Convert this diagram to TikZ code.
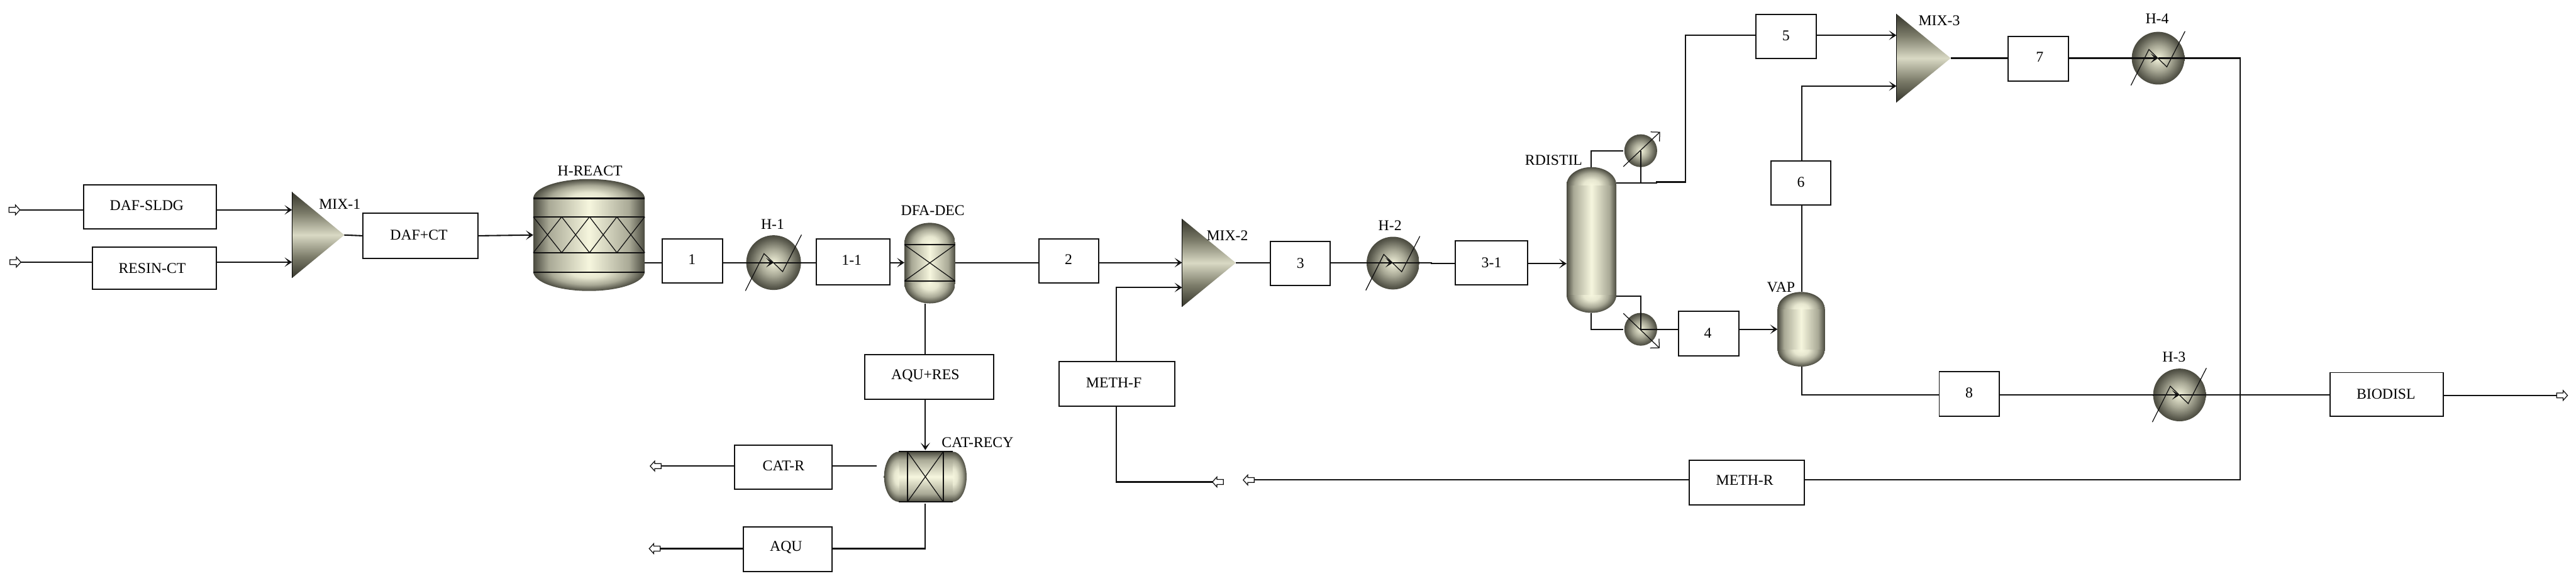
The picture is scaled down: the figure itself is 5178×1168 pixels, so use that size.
\documentclass[tikz,border=0pt]{standalone}
\usepackage{fontspec}
\setmainfont{Liberation Serif}
\usetikzlibrary{arrows.meta}
\definecolor{eqdark}{HTML}{4A4A3F}
\definecolor{eqmid}{HTML}{A9A996}
\definecolor{eqlight}{HTML}{F6F6DE}
\definecolor{mixdark}{HTML}{35352B}
\definecolor{mixmid}{HTML}{7A7A68}
\definecolor{mixlight}{HTML}{D9D9C4}
\definecolor{inklines}{HTML}{111111}
\pgfdeclarehorizontalshading{vbody}{100bp}{color(0bp)=(eqdark); color(25bp)=(eqdark); color(32bp)=(eqmid); color(50bp)=(eqlight); color(68bp)=(eqmid); color(75bp)=(eqdark); color(100bp)=(eqdark)}
\pgfdeclareverticalshading{hbody}{100bp}{color(0bp)=(eqdark); color(25bp)=(eqdark); color(33bp)=(eqmid); color(50bp)=(eqlight); color(67bp)=(eqmid); color(75bp)=(eqdark); color(100bp)=(eqdark)}
\pgfdeclareverticalshading{mixshade}{100bp}{color(0bp)=(mixdark); color(25bp)=(mixdark); color(37bp)=(mixmid); color(50bp)=(mixlight); color(63bp)=(mixmid); color(75bp)=(mixdark); color(100bp)=(mixdark)}
\pgfdeclareradialshading{headshade}{\pgfpointorigin}{color(0bp)=(eqlight); color(8bp)=(eqlight!80!eqmid); color(17bp)=(eqmid); color(25bp)=(eqdark); color(50bp)=(eqdark)}
\pgfdeclareradialshading{hxshade}{\pgfpointorigin}{color(0bp)=(eqlight!95!eqmid); color(12bp)=(eqmid); color(22bp)=(eqdark!80!eqmid); color(25bp)=(eqdark); color(50bp)=(eqdark)}
\tikzset{
  anchorbox/.style={inner sep=0pt,outer sep=0pt},
  streambox/.style={anchorbox,draw=inklines,line width=0.7pt,fill=white},
  tag/.style={inner sep=0pt,font=\fontsize{8.54}{10}\selectfont},
  ln/.style={draw=inklines,line width=0.75pt},
  inlet/.style={ln,-{Stealth[length=0.15cm,width=0.19cm,inset=0.08cm]}},
  thinln/.style={draw=inklines,line width=0.45pt},
  bandln/.style={draw=inklines,line width=0.85pt},
  barbln/.style={thinln,-{Straight Barb[length=0.13cm,width=0.26cm]}},
  blockst/.style={draw=inklines,line width=0.45pt,fill=white}
}
% invisible frame node
\newcommand{\frameat}[5]{\node[anchorbox,minimum width={(#4-#2)*0.01cm},minimum height={(#5-#3)*0.01cm}] (#1) at ({(#2+#4)/2},{(#3+#5)/2}) {};}
% stream box: name x1 y1 x2 y2 tx ty text
\newcommand{\strbox}[8]{\node[streambox,minimum width={(#4-#2)*0.01cm},minimum height={(#5-#3)*0.01cm}] (#1) at ({(#2+#4)/2},{(#3+#5)/2}) {};
  \node[tag] (#1-tag) at (#6,#7) {#8};}
% vertical vessel: name x1 y1 x2 y2 ry
\newcommand{\vvessel}[6]{\frameat{#1}{#2}{#3}{#4}{#5}
  \shade[shading=vbody] (#2,{#3+#6}) rectangle (#4,{#5-#6});
  \begin{scope}\clip (#2,#3) rectangle (#4,{#3+#6});
    \shade[shading=headshade] ({(#2+#4)/2},{#3+#6}) ellipse ({(#4-#2)/2} and #6);\end{scope}
  \begin{scope}\clip (#2,{#5-#6}) rectangle (#4,#5);
    \shade[shading=headshade] ({(#2+#4)/2},{#5-#6}) ellipse ({(#4-#2)/2} and #6);\end{scope}}
% heat exchanger disc: name cx cy r
\newcommand{\hxdisc}[4]{\frameat{#1}{#2-#4}{#3-#4}{#2+#4}{#3+#4}
  \shade[shading=hxshade] (#2,#3) circle (#4);}
% heater with zigzag
\newcommand{\heater}[4]{\hxdisc{#1}{#2}{#3}{#4}
  \draw[thinln] ({#2-1.03*#4},{#3+1.03*#4}) -- ({#2-0.35*#4},{#3-0.33*#4}) -- ({#2+0.33*#4},{#3+0.33*#4}) -- ({#2+1.02*#4},{#3-1.02*#4});}
% mixer: name x1 y1 x2 y2
\newcommand{\mixer}[5]{\frameat{#1}{#2}{#3}{#4}{#5}
  \shade[shading=mixshade] (#2,#3) -- (#4,{(#3+#5)/2}) -- (#2,#5) -- cycle;
  \draw[draw=black,line width=0.3pt] (#2,#3) -- (#2,#5);}
% block arrow: tip x, y, direction (+1 right, -1 left)
\newcommand{\blockarrow}[3]{\begin{scope}[shift={(#1,#2)},xscale=#3]
  \draw[blockst] (0,0) -- (-9,-10) -- (-9,-5) -- (-22,-5) -- (-22,5) -- (-9,5) -- (-9,10) -- cycle;\end{scope}}
\begin{document}
\begin{tikzpicture}[x=0.01cm,y=-0.01cm]
\useasboundingbox (0,0) rectangle (5178,1168);
% ---- equipment
\mixer{mixa}{587}{386}{692}{559}
\node[tag] (mixa-tag) at (683,410) {MIX-1};
\vvessel{react}{1072}{360}{1296}{585}{39}
\node[tag] (react-tag) at (1186,343) {H-REACT};
\foreach \yy in {399,436,508,547} \draw[bandln] (1072,\yy) -- (1296,\yy);
\foreach \xa/\xb in {1072/1129,1129/1185,1185/1240,1240/1296} {
  \draw[thinln] (\xa,436) -- (\xb,508);
  \draw[thinln] (\xb,436) -- (\xa,508);}
\heater{ha}{1555}{528}{55}
\node[tag] (ha-tag) at (1553,451) {H-1};
\vvessel{dec}{1818}{448}{1920}{610}{40}
\node[tag] (dec-tag) at (1875,423) {DFA-DEC};
\draw[bandln] (1818,492) -- (1920,492) (1818,565) -- (1920,565);
\draw[thinln] (1818,492) -- (1920,565) (1920,492) -- (1818,565);
\mixer{mixb}{2376}{440}{2484}{617}
\node[tag] (mixb-tag) at (2467,473) {MIX-2};
\heater{hb}{2800}{529}{53}
\node[tag] (hb-tag) at (2794,453) {H-2};
\vvessel{col}{3149}{336}{3249}{629}{36}
\node[tag] (col-tag) at (3123,322) {RDISTIL};
\hxdisc{cond}{3298}{303}{33}
\hxdisc{reb}{3298}{662}{33}
\vvessel{vap}{3573}{587}{3668}{737}{34}
\node[tag] (vap-tag) at (3580,578) {VAP};
\mixer{mixc}{3812}{28}{3921}{206}
\node[tag] (mixc-tag) at (3898,41) {MIX-3};
\heater{hd}{4338}{117}{53}
\node[tag] (hd-tag) at (4336,38) {H-4};
\heater{hc}{4381}{794}{53}
\node[tag] (hc-tag) at (4370,718) {H-3};
% horizontal vessel CAT-RECY
\frameat{recy}{1777}{908}{1943}{1009}
\shade[shading=hbody] (1807,908) rectangle (1915,1009);
\begin{scope}\clip (1777,908) rectangle (1807,1009);
  \shade[shading=headshade] (1807,958.5) ellipse (30 and 50.5);\end{scope}
\begin{scope}\clip (1915,908) rectangle (1943,1009);
  \shade[shading=headshade] (1915,958.5) ellipse (28 and 50.5);\end{scope}
\draw[bandln] (1807,908) -- (1915,908) (1807,1009) -- (1915,1009) (1824,908) -- (1824,1009) (1896,908) -- (1896,1009);
\draw[thinln] (1824,908) -- (1896,1009) (1896,908) -- (1824,1009);
\node[tag] (recy-tag) at (1965,890) {CAT-RECY};
% ---- stream boxes
\strbox{dafs}{168}{372}{435}{460}{295}{413}{DAF-SLDG}
\strbox{resin}{186}{497}{435}{582}{306}{539}{RESIN-CT}
\strbox{dafct}{729}{429}{961}{519}{842}{472}{DAF+CT}
\strbox{sa}{1331}{480}{1452}{569}{1391}{522}{1}
\strbox{saa}{1641}{480}{1789}{573}{1712}{523}{1-1}
\strbox{sb}{2088}{480}{2208}{569}{2148}{522}{2}
\strbox{sc}{2553}{486}{2674}{574}{2614}{529}{3}
\strbox{sca}{2925}{484}{3071}{573}{2998}{528}{3-1}
\strbox{aqures}{1738}{713}{1997}{803}{1860}{756}{AQU+RES}
\strbox{methf}{2129}{727}{2361}{817}{2239}{769}{METH-F}
\strbox{catr}{1477}{895}{1673}{983}{1575}{937}{CAT-R}
\strbox{aqu}{1494}{1059}{1673}{1149}{1580}{1101}{AQU}
\strbox{methr}{3396}{925}{3627}{1015}{3507}{966}{METH-R}
\strbox{sd}{3374}{626}{3495}{715}{3433}{670}{4}
\strbox{se}{3530}{29}{3651}{117}{3590}{72}{5}
\strbox{sf}{3560}{324}{3680}{412}{3620}{366}{6}
\strbox{sg}{4037}{73}{4158}{163}{4100}{115}{7}
\strbox{sh}{3898}{747}{4019}{837}{3958}{790}{8}
\strbox{bio}{4684}{749}{4911}{837}{4796}{792}{BIODISL}
% ---- block arrows
\blockarrow{40}{422}{1}
\blockarrow{42}{527}{1}
\blockarrow{1307}{937}{-1}
\blockarrow{1305}{1103}{-1}
\blockarrow{2437}{969}{-1}
\blockarrow{2499}{965}{-1}
\blockarrow{5161}{795}{1}
% ---- port coordinates
\coordinate (fa) at (40,422);
\coordinate (fb) at (42,527);
\coordinate (pcatr) at (1329,937);
\coordinate (paqu) at (1327,1103);
\coordinate (fmeth) at (2437,969);
\coordinate (pmeth) at (2521,965);
\coordinate (pbio) at (5139,795);
\coordinate (catrout) at (1762,937);
\coordinate (aquout) at (1860,1013);
\coordinate (aqucorner) at (1860,1103);
\coordinate (decx) at (1860,610);
\coordinate (recyin) at (1860,905);
\coordinate (mainy) at (0,528);
\coordinate (methin) at (0,578);
\coordinate (methx) at (2244,0);
\coordinate (jog) at (2877,528);
\coordinate (joga) at (2877,530);
\coordinate (condtop) at (3198,303);
\coordinate (condbot) at (3298,368);
\coordinate (ovjog) at (3330,368);
\coordinate (ovjoga) at (3330,366);
\coordinate (ovup) at (3388,366);
\coordinate (ovtop) at (3388,71);
\coordinate (rebtop) at (3298,596);
\coordinate (rebleft) at (3198,662);
\coordinate (vapx) at (3622,0);
\coordinate (vapbot) at (3622,794);
\coordinate (mixcb) at (3622,173);
\coordinate (recycorner) at (4503,965);
\coordinate (recytop) at (4503,117);
% ---- connectors
\draw[ln] (fa) -- (dafs.west |- fa);
\draw[inlet] (dafs.east |- fa) -- (mixa.west |- fa);
\draw[ln] (fb) -- (resin.west |- fb);
\draw[inlet] (resin.east |- fb) -- (mixa.west |- fb);
\draw[ln] (mixa.east) -- (dafct.west);
\draw[inlet] (dafct.east) -- (react.west);
\draw[ln] (react.east |- mainy) -- (sa.west |- mainy);
\draw[inlet] (sa.east |- mainy) -- (ha.west);
\draw[ln] (ha.east) -- (saa.west |- ha.east);
\draw[inlet] (saa.east |- mainy) -- (dec.west |- mainy);
\draw[ln] (dec.east |- mainy) -- (sb.west |- mainy);
\draw[inlet] (sb.east |- mainy) -- (mixb.west |- mainy);
\draw[ln] (mixb.east) -- (sc.west |- mixb.east);
\draw[inlet] (sc.east |- mainy) -- (hb.west |- mainy);
\draw[ln] (hb.east |- mainy) -- (jog) -- (joga) -- (sca.west |- joga);
\draw[inlet] (sca.east |- joga) -- (col.west |- joga);
\draw[ln] (decx) -- (aqures.north -| decx);
\draw[inlet] (aqures.south -| decx) -- (recyin);
\draw[ln] (catrout) -- (catr.east |- catrout);
\draw[ln] (catr.west |- pcatr) -- (pcatr);
\draw[ln] (aquout) -- (aqucorner) -- (aqu.east |- aqucorner);
\draw[ln] (aqu.west |- paqu) -- (paqu);
\draw[ln] (fmeth) -- (fmeth -| methx) -- (methf.south -| methx);
\draw[inlet] (methf.north -| methx) -- (methx |- methin) -- (mixb.west |- methin);
\draw[ln] (col.north -| condtop) -- (condtop) -- (3263,303);
\draw[ln] (cond.south) -- (condbot);
\draw[ln] (col.east |- condbot) -- (ovjog) -- (ovjoga) -- (ovup) -- (ovtop) -- (se.west |- ovtop);
\draw[inlet] (se.east |- ovtop) -- (mixc.west |- ovtop);
\draw[ln] (col.east |- rebtop) -- (rebtop) -- (reb.north);
\draw[ln] (col.south -| rebleft) -- (rebleft) -- (3263,662);
\draw[ln] (reb.east) -- (sd.west |- reb.east);
\draw[inlet] (sd.east |- reb.east) -- (vap.west |- reb.east);
\draw[ln] (vap.north -| vapx) -- (sf.south -| vapx);
\draw[inlet] (sf.north -| vapx) -- (mixcb) -- (mixc.west |- mixcb);
\draw[ln] (vap.south -| vapx) -- (vapbot) -- (sh.west |- vapbot);
\draw[inlet] (sh.east |- hc.east) -- (hc.west);
\draw[ln] (mixc.east) -- (sg.west |- mixc.east);
\draw[inlet] (sg.east |- hd.west) -- (hd.west);
\draw[ln] (hd.east) -- (recytop) -- (recycorner) -- (methr.east |- recycorner);
\draw[ln] (methr.west |- pmeth) -- (pmeth);
\draw[ln] (hc.east) -- (bio.west |- hc.east);
\draw[ln] (bio.east |- pbio) -- (pbio);
% condenser and reboiler control lines
\draw[barbln] (3263,335) -- (3337,265);
\draw[barbln] (3263,630) -- (3336,700);
\end{tikzpicture}
\end{document}
